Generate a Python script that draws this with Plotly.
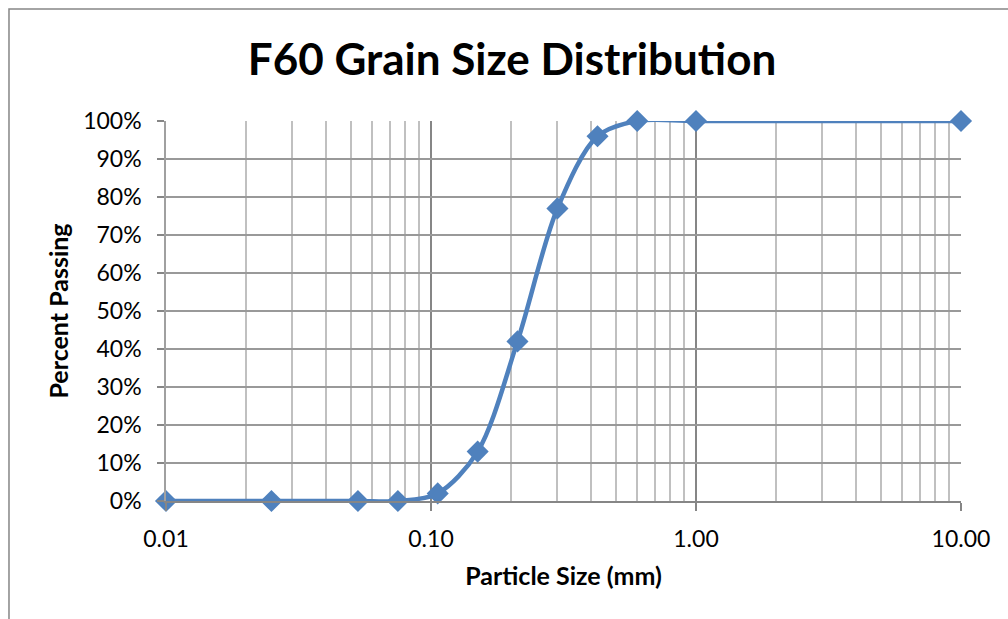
import plotly.graph_objects as go

# Sieve analysis results for F60 sand
particle_size_mm = [0.01, 0.025, 0.053, 0.075, 0.106, 0.15, 0.212, 0.30, 0.425, 0.60, 1.00, 10.00]
percent_passing = [0.00, 0.00, 0.00, 0.00, 0.02, 0.13, 0.42, 0.77, 0.96, 1.00, 1.00, 1.00]

x_major = [0.01, 0.1, 1, 10]
x_major_text = ["0.01", "0.10", "1.00", "10.00"]
x_minor = [m * d for d in (0.01, 0.1, 1) for m in range(2, 10)]

FONT = "Lato"
BLUE = "#4F81BD"

fig = go.Figure()
fig.add_trace(go.Scatter(
    x=particle_size_mm,
    y=percent_passing,
    mode="lines+markers",
    line=dict(color=BLUE, width=4.5, shape="spline", smoothing=0.9),
    marker=dict(symbol="diamond", size=17, color=BLUE),
    cliponaxis=False,
    showlegend=False,
))

fig.update_layout(
    width=1008,
    height=619,
    margin=dict(l=166, r=47, t=121, b=118),
    paper_bgcolor="white",
    plot_bgcolor="white",
    font=dict(family=FONT, color="black"),
    title=dict(
        text="<b>F60 Grain Size Distribution</b>",
        x=0.508, xanchor="center",
        y=0.903, yanchor="middle",
        font=dict(size=44, family=FONT, color="black"),
    ),
    xaxis=dict(
        type="log",
        range=[-2, 1],
        tickmode="array",
        tickvals=x_major,
        ticktext=x_major_text,
        ticks="outside",
        ticklen=8,
        tickcolor="#868686",
        tickwidth=1.5,
        ticklabelstandoff=9,
        tickfont=dict(size=23, family=FONT),
        showgrid=True,
        gridcolor="#868686",
        gridwidth=1.5,
        minor=dict(tickvals=x_minor, showgrid=True, gridcolor="#c0c0c0", gridwidth=1.5, ticks=""),
        showline=True,
        linecolor="#868686",
        linewidth=1.5,
        zeroline=False,
        title=dict(text="<b>Particle Size (mm)</b>", font=dict(size=25, family=FONT), standoff=16),
    ),
    yaxis=dict(
        range=[0, 1],
        tickmode="linear",
        tick0=0,
        dtick=0.1,
        tickformat=".0%",
        ticks="outside",
        ticklen=7,
        tickcolor="#868686",
        tickwidth=1.5,
        ticklabelstandoff=11,
        tickfont=dict(size=23, family=FONT),
        showgrid=True,
        gridcolor="#999999",
        gridwidth=1.5,
        showline=True,
        linecolor="#a0a0a0",
        linewidth=1.5,
        zeroline=False,
        title=dict(text="<b>Percent Passing</b>", font=dict(size=25, family=FONT), standoff=7),
    ),
    shapes=[
        # chart area border
        dict(type="rect", xref="paper", yref="paper",
             x0=-0.1975, x1=1.2, y0=-0.5, y1=1.2947,
             line=dict(color="#868686", width=1.5), layer="below"),
    ],
)

fig.write_html("out.html")
